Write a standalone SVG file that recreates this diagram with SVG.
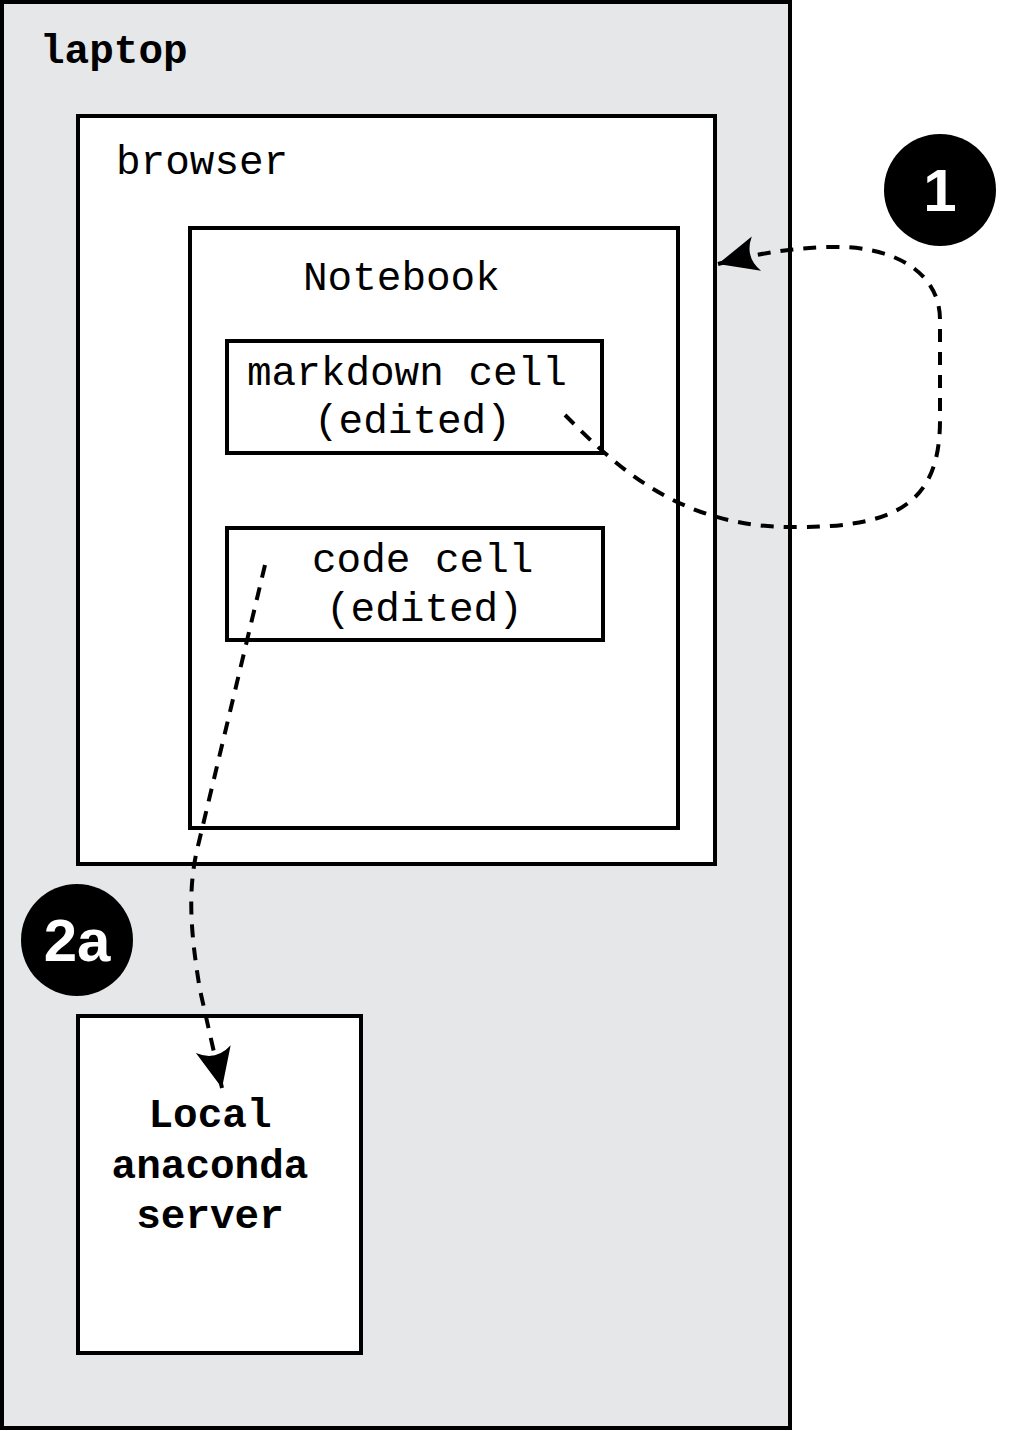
<svg xmlns="http://www.w3.org/2000/svg" width="1015" height="1431" viewBox="0 0 1015 1431">
<defs>
<style>
.box{fill:#fff;stroke:#000;stroke-width:4}
.t{font-family:"Liberation Mono","DejaVu Sans Mono",monospace;font-size:41px;fill:#000}
.b{font-weight:bold}
.num{font-family:"Liberation Sans","DejaVu Sans",sans-serif;font-weight:bold;font-size:60px;fill:#fff;text-anchor:middle}
.conn{fill:none;stroke:#000;stroke-width:4;stroke-dasharray:13 10}
</style>
<marker id="ah" markerUnits="userSpaceOnUse" markerWidth="44" markerHeight="44" viewBox="-40 -20 42 40" refX="0" refY="0" orient="auto">
<path d="M0 0 L-38 -17 Q-26 0 -38 17 Z" fill="#000"/>
</marker>
</defs>
<g id="laptop">
<rect x="2" y="2" width="788" height="1426" fill="#e6e7e9" stroke="#000" stroke-width="4"/>
<text class="t b" x="40" y="63">laptop</text>
</g>
<g id="browser">
<rect class="box" x="78" y="116" width="637" height="748"/>
<text class="t" x="116" y="174">browser</text>
</g>
<g id="notebook">
<rect class="box" x="190" y="228" width="488" height="600"/>
<text class="t" x="303" y="290">Notebook</text>
</g>
<g id="markdown">
<rect class="box" x="227" y="341" width="375" height="112"/>
<text class="t" x="247" y="385">markdown cell</text>
<text class="t" x="314" y="433">(edited)</text>
</g>
<g id="code">
<rect class="box" x="227" y="528" width="376" height="112"/>
<text class="t" x="312" y="572">code cell</text>
<text class="t" x="326" y="621">(edited)</text>
</g>
<g id="server">
<rect class="box" x="78" y="1016" width="283" height="337"/>
<text class="t b" x="210" y="1127" text-anchor="middle">Local</text>
<text class="t b" x="210" y="1178" text-anchor="middle">anaconda</text>
<text class="t b" x="210" y="1228" text-anchor="middle">server</text>
</g>
<g id="badge1">
<circle cx="940" cy="190" r="56" fill="#000"/>
<text class="num" x="940" y="211">1</text>
</g>
<g id="badge2a">
<circle cx="77" cy="940" r="56" fill="#000"/>
<text class="num" x="77" y="961">2a</text>
</g>
<g id="connectors">
<path class="conn" marker-end="url(#ah)" d="M565 415 C615 465 680 530 800 527 C900 527 940 500 940 420 L940 320 C940 270 890 245 830 247 C790 248 755 254 718 264"/>
<path class="conn" marker-end="url(#ah)" d="M265 565 L197 850 C188 890 190 930 200 990 L222 1088"/>
</g>
</svg>
